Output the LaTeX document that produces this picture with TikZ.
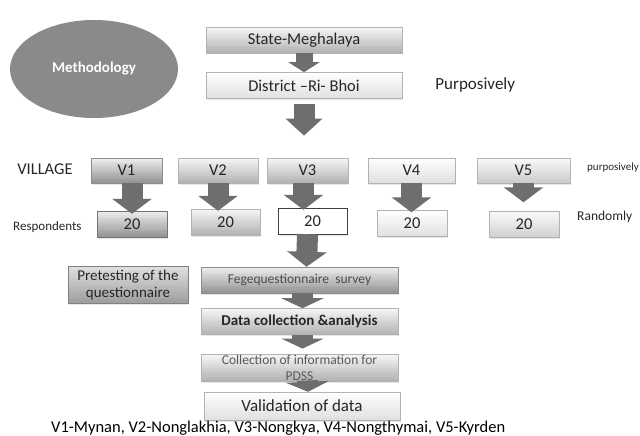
\documentclass[tikz,border=0pt]{standalone}
\usepackage{fontspec}
\setmainfont{Carlito}
\usetikzlibrary{positioning, arrows.meta, shadows, shapes.geometric, calc}

\definecolor{arrowgray}{HTML}{6E6E6E}
\definecolor{textgray}{HTML}{262626}

\tikzset{
    shadebox/.style 2 args={fill=black!#2, path picture={
        \foreach \k in {0,...,13}{
            \pgfmathsetmacro{\g}{#1+(#2-#1)*(\k+0.5)/14}
            \fill[black!\g] ($(path picture bounding box.north west)!{\k/14}!(path picture bounding box.south west)$) rectangle ($(path picture bounding box.north east)!{(\k+1.3)/14}!(path picture bounding box.south east)$);
        }}}
}

\begin{document}
\begin{tikzpicture}[
    x=1pt, y=-1pt,
    box/.style={rectangle, draw=black!30, minimum height=26pt, inner sep=1pt, align=center, text=textgray, font=\fontsize{16.5}{18}\selectfont, drop shadow={opacity=0.2, shadow xshift=1pt, shadow yshift=-1.5pt}},
    darkbox/.style={box, draw=black!45, shadebox={6}{42}},
    midbox/.style={box, shadebox={3}{30}},
    lightbox/.style={box, shadebox={0}{12}},
    blockarrow/.style={arrowgray, line width=21pt, -{Triangle[width=39pt, length=15pt]}},
    note/.style={inner sep=0pt, text=textgray, font=\fontsize{13}{15}\selectfont}
]
\useasboundingbox (0,0) rectangle (640,436);

% Methodology ellipse
\node[ellipse, fill=black!46, minimum width=168pt, minimum height=98pt, text=white, font=\bfseries\fontsize{15}{17}\selectfont] (method) at (94,69) {Methodology};

% State and district
\node[midbox, minimum width=196pt] (state) at (304,40) {State-Meghalaya};
\node[lightbox, minimum width=196pt, below=19pt of state] (district) {District –Ri- Bhoi};
\node[note, font=\fontsize{17}{19}\selectfont, right=33pt of district] (purp) {Purposively};
\coordinate (split) at ([yshift=-37pt]district.south);

% Villages
\node[note, font=\fontsize{16.5}{18}\selectfont] (village) at (45,169) {VILLAGE};
\node[darkbox, minimum width=71pt, minimum height=25pt] (v1) at (126.5,170.5) {V1};
\node[midbox, minimum width=80pt, minimum height=25pt] (v2) at (218,170.5) {V2};
\node[midbox, minimum width=81pt, minimum height=25pt] (v3) at (307.5,170.5) {V3};
\node[lightbox, minimum width=87pt, minimum height=25pt] (v4) at (411.5,170.5) {V4};
\node[box, shadebox={2}{20}, minimum width=93pt, minimum height=25pt] (v5) at (523.5,170.5) {V5};
\node[note, anchor=west, font=\fontsize{11}{13}\selectfont] (purp2) at (587,168) {purposively};

% Respondents
\node[note, anchor=west] (resp) at (13,227) {Respondents};
\node[darkbox, draw=black!55, minimum width=70pt] (r1) at (132,224) {20};
\node[midbox, minimum width=69pt] (r2) at (225.5,222) {20};
\node[box, fill=white, draw=black!75, minimum width=69pt] (r3) at (312.5,221) {20};
\node[lightbox, minimum width=70pt] (r4) at (412,223.5) {20};
\node[box, shadebox={2}{18}, minimum width=70pt] (r5) at (524,224.5) {20};
\node[note, anchor=west, font=\fontsize{13.5}{15}\selectfont] (rand) at (577,217) {Randomly};

% Survey steps
\node[box, draw=black!50, shadebox={12}{38}, minimum width=120pt, minimum height=37pt, font=\fontsize{15}{17}\selectfont] (pretest) at (128,284.5) {Pretesting of the\\questionnaire};
\node[darkbox, minimum width=197pt, text=black!70, font=\fontsize{13.5}{15}\selectfont] (survey) at (299.5,280) {Fegequestionnaire~ survey};
\node[midbox, minimum width=197pt, below=15pt of survey, font=\bfseries\fontsize{15}{17}\selectfont] (data) {Data collection \&analysis};
\node[midbox, minimum width=197pt, minimum height=25pt, below=19pt of data, text=black!65, font=\fontsize{13.5}{16}\selectfont] (info) {Collection of information for\\PDSS};
\node[lightbox, minimum width=196pt, minimum height=28pt, font=\fontsize{17}{19}\selectfont] (valid) at (302,406) {Validation of data};

% Village names
\node[anchor=base west, inner sep=0pt, font=\fontsize{16.5}{18}\selectfont] (names) at (51,432) {V1-Mynan, V2-Nonglakhia, V3-Nongkya, V4-Nongthymai, V5-Kyrden};

% Arrows
\draw[blockarrow, line width=17pt, -{Triangle[width=31pt, length=10pt]}] (state.south) -- (district.north);
\draw[blockarrow, -{Triangle[width=36pt, length=17pt]}] ([yshift=-5pt]district.south) -- (split);
\draw[blockarrow] (v1.south -| r1.north) -- ([yshift=-3pt]r1.north);
\draw[blockarrow] (v2.south) -- ([yshift=-2pt]v2.south |- r2.north);
\draw[blockarrow] ([xshift=-4pt]v3.south) -- ([xshift=-4pt,yshift=-2pt]v3.south |- r3.north);
\draw[blockarrow] (v4.south) -- ([yshift=-2pt]v4.south |- r4.north);
\draw[blockarrow] (v5.south) -- ([yshift=9pt]v5.south |- r5.north);
\draw[blockarrow] ([xshift=-5pt]r3.south) -- ([xshift=7pt]survey.north);
\draw[blockarrow, -{Triangle[width=42pt, length=10pt]}] ([xshift=3pt]survey.south) -- ([xshift=3pt]data.north);
\draw[blockarrow, -{Triangle[width=42pt, length=10pt]}] ([xshift=3pt]data.south) -- ([xshift=3pt,yshift=5pt]info.north);
\draw[blockarrow, -{Triangle[width=43pt, length=10pt]}] ([xshift=8pt,yshift=1pt]info.south) -- ([xshift=6pt]valid.north);

\end{tikzpicture}
\end{document}
